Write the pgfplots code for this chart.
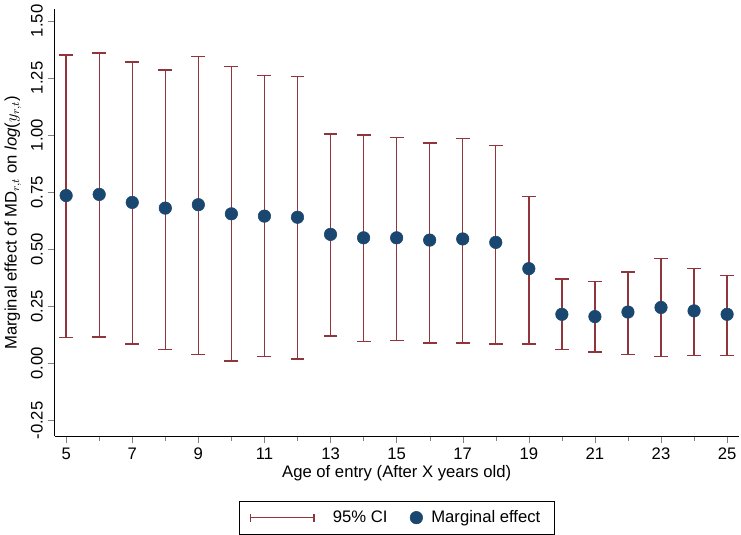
\documentclass[border=0pt]{standalone}
\usepackage{pgfplots}
\pgfplotsset{compat=1.18}
\usepackage{pgfplotstable}
\usepackage{fontspec}
\setmainfont{Liberation Sans}
\definecolor{cired}{RGB}{144,53,59}
\definecolor{navy}{RGB}{26,71,111}
\pgfplotstableread{
x y lo hi
5 0.735 0.113 1.35
6 0.740 0.115 1.36
7 0.705 0.085 1.32
8 0.680 0.060 1.285
9 0.695 0.040 1.345
10 0.655 0.010 1.30
11 0.645 0.030 1.26
12 0.640 0.020 1.255
13 0.565 0.120 1.005
14 0.550 0.095 1.00
15 0.550 0.100 0.99
16 0.540 0.090 0.965
17 0.545 0.090 0.985
18 0.530 0.085 0.955
19 0.415 0.085 0.73
20 0.215 0.060 0.37
21 0.205 0.050 0.36
22 0.225 0.040 0.40
23 0.245 0.030 0.46
24 0.230 0.035 0.415
25 0.215 0.035 0.385
}\data
\begin{document}
\begin{tikzpicture}
\begin{axis}[
  scale only axis,
  width=17.3cm, height=10.8cm,
  xmin=4.65, xmax=25.35, ymin=-0.32, ymax=1.55,
  axis lines*=left,
  xtick={5,7,...,25}, minor xtick={6,8,...,24},
  ytick={-0.25,0,0.25,0.5,0.75,1,1.25,1.5},
  yticklabel style={rotate=90, /pgf/number format/.cd, fixed, fixed zerofill, precision=2},
  /pgf/number format/assume math mode=true,
  tick label style={font=\large},
  label style={font=\large},
  tick align=outside, tick pos=left,
  major tick length=5pt, minor tick length=3pt,
  xlabel={Age of entry (After X years old)},
  xlabel style={yshift=3pt},
  ylabel={Marginal effect of MD$_{r,t}$ on \textit{log}($y_{r,t}$)},
  legend columns=2,
  legend style={at={(0.5,-0.15)}, anchor=north, draw=black, font=\large, /tikz/every even column/.append style={column sep=14pt}, inner xsep=8pt, inner ysep=5pt},
  legend image code/.code={\draw[cired, line width=1pt] (0cm,0cm) -- (1.6cm,0cm);
  \draw[cired, line width=1pt] (0cm,-0.1cm) -- (0cm,0.1cm);
  \draw[cired, line width=1pt] (1.6cm,-0.1cm) -- (1.6cm,0.1cm);
  \path (2.0cm,0);},
]
\addplot[draw=cired, only marks, mark=none, error bars/.cd, y dir=both, y explicit,
  error bar style={draw=cired, line width=1pt}, error mark options={draw=cired, rotate=90, mark size=5pt, line width=1pt}]
  table[x=x, y=y, y error plus expr=\thisrow{hi}-\thisrow{y}, y error minus expr=\thisrow{y}-\thisrow{lo}]{\data};
\addlegendentry{95\% CI}
\addplot[only marks, mark=*, mark size=4.5pt, navy, mark options={fill=navy},
  legend image code/.code={\fill[navy] (0.3cm,0cm) circle (4.5pt); \path (0.6cm,0);}] table[x=x,y=y]{\data};
\addlegendentry{Marginal effect}
\end{axis}
\end{tikzpicture}
\end{document}
